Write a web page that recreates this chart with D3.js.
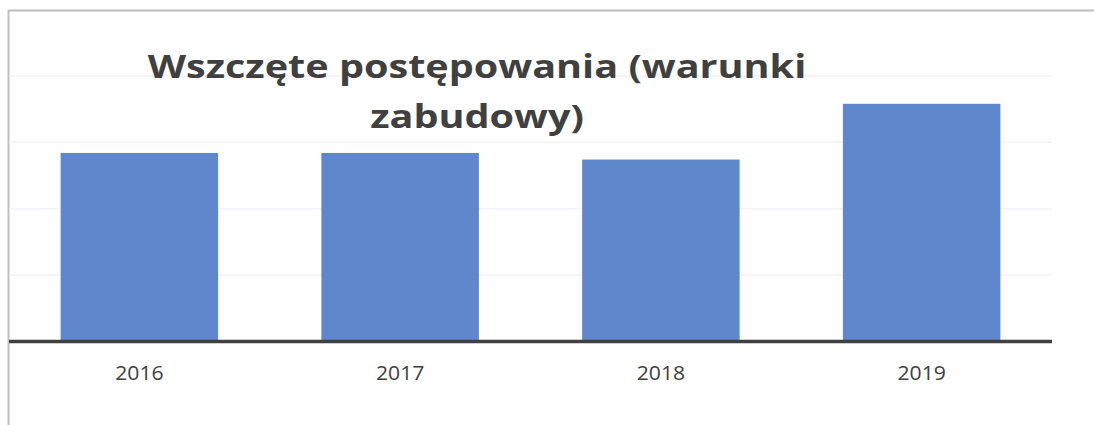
<!DOCTYPE html>
<html>
<head>
<meta charset="utf-8">
<script src="https://cdn.jsdelivr.net/npm/d3@7"></script>
<style>
  body { margin: 0; background: #fff; }
  svg { display: block; }
</style>
</head>
<body>
<script>
const years = ["2016", "2017", "2018", "2019"];
const values = [142, 142, 137, 179];
const gridTicks = [50, 100, 150, 200];
const titleLines = ["Wszczęte postępowania (warunki", "zabudowy)"];

const width = 1094, height = 425;
const plot = { left: 9, right: 1052, top: 9, bottom: 341.5 };

const svg = d3.select("body").append("svg")
  .attr("width", width)
  .attr("height", height);

// outer frame (only top and left edges are visible)
svg.append("line")
  .attr("x1", 8.5).attr("x2", width).attr("y1", 10.5).attr("y2", 10.5)
  .attr("stroke", "#bfbfbf").attr("stroke-width", 2);
svg.append("line")
  .attr("x1", 8.5).attr("x2", 8.5).attr("y1", 10).attr("y2", height)
  .attr("stroke", "#bfbfbf").attr("stroke-width", 2);

const xScale = d3.scaleBand()
  .domain(years)
  .range([plot.left, plot.right])
  .paddingInner(0.396)
  .paddingOuter(0.198);

const yScale = d3.scaleLinear()
  .domain([0, 200])
  .range([plot.bottom, plot.bottom - 4 * 66.4]);

// gridlines
svg.append("g").selectAll("line")
  .data(gridTicks)
  .enter()
  .append("line")
  .attr("x1", plot.left)
  .attr("x2", plot.right)
  .attr("y1", d => yScale(d))
  .attr("y2", d => yScale(d))
  .attr("stroke", "#f2f2f7")
  .attr("stroke-width", 1.5);

// bars
svg.append("g").selectAll("rect")
  .data(values)
  .enter()
  .append("rect")
  .attr("x", (d, i) => xScale(years[i]))
  .attr("y", d => yScale(d))
  .attr("width", xScale.bandwidth())
  .attr("height", d => yScale(0) - yScale(d))
  .attr("fill", "#5f87cc");

// x axis
const xAxis = d3.axisBottom(xScale).tickSize(0).tickPadding(24);
const gx = svg.append("g")
  .attr("transform", "translate(0," + plot.bottom + ")")
  .call(xAxis);
gx.select(".domain").remove();
gx.selectAll("text")
  .attr("fill", "#404040")
  .style("font-family", "'Open Sans', sans-serif")
  .style("font-size", "20px")
  .attr("transform", "scale(1.06,1)");

svg.append("line")
  .attr("x1", plot.left).attr("x2", plot.right)
  .attr("y1", plot.bottom).attr("y2", plot.bottom)
  .attr("stroke", "#404040").attr("stroke-width", 3.5);

// title (stretched a little to match the wide look of the original)
const title = svg.append("text")
  .attr("text-anchor", "middle")
  .attr("transform", "translate(477,0) scale(1.2,1)")
  .attr("fill", "#404040")
  .style("font-family", "'Open Sans', sans-serif")
  .style("font-weight", "bold")
  .style("font-size", "33px");
title.selectAll("tspan")
  .data(titleLines)
  .enter()
  .append("tspan")
  .attr("x", 0)
  .attr("y", (d, i) => 78 + i * 50)
  .text(d => d);
</script>
</body>
</html>
